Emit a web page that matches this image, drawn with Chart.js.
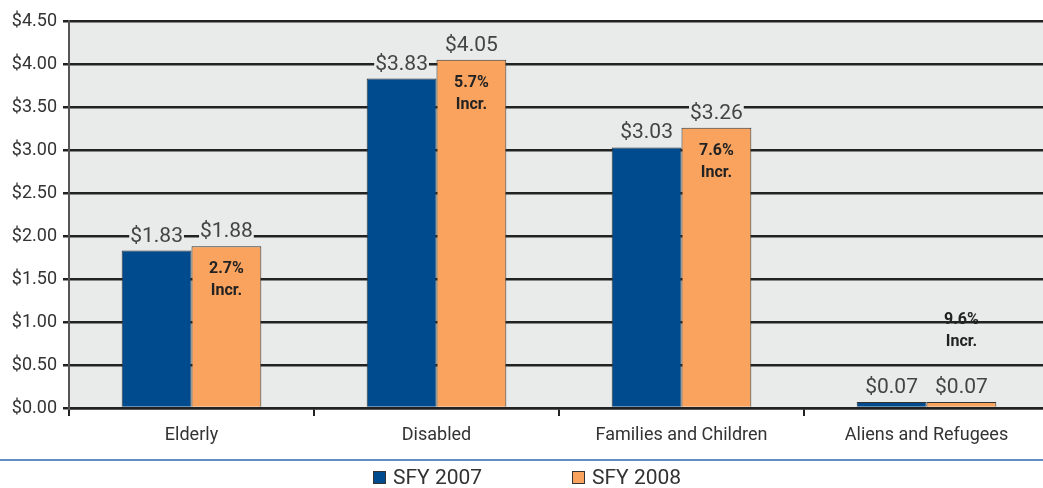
<!DOCTYPE html>
<html>
<head>
<meta charset="utf-8">
<script src="https://cdn.jsdelivr.net/npm/chart.js@4"></script>
<style>
  html, body { margin: 0; padding: 0; background: #fff; overflow: hidden; }
  #wrap { width: 1049px; height: 488px; }
</style>
</head>
<body>
<div id="wrap"><canvas id="barChart"></canvas></div>
<script>
// data
const categories = ["Elderly", "Disabled", "Families and Children", "Aliens and Refugees"];
const sfy2007 = [1.83, 3.83, 3.03, 0.07];
const sfy2008 = [1.88, 4.05, 3.26, 0.07];
const increases = ["2.7%", "5.7%", "7.6%", "9.6%"];
const seriesNames = ["SFY 2007", "SFY 2008"];

const blue = "#004b8d";
const orange = "#f9a35f";
const plotGrey = "#e9ebeb";
const textFont = "Roboto, 'DejaVu Sans', sans-serif";

// grey plot background
const plotBg = {
  id: "plotBg",
  beforeDraw(chart) {
    const { ctx, chartArea: a } = chart;
    ctx.save();
    ctx.fillStyle = plotGrey;
    ctx.fillRect(a.left, a.top, a.right - a.left, a.bottom - a.top);
    ctx.restore();
  },
};

// value labels + increase notes
const barLabels = {
  id: "barLabels",
  afterDatasetsDraw(chart) {
    const ctx = chart.ctx;
    ctx.save();
    ctx.textAlign = "center";
    ctx.textBaseline = "alphabetic";
    ctx.font = "21px " + textFont;
    // clear the grid behind the numbers first
    chart.data.datasets.forEach((ds, i) => {
      chart.getDatasetMeta(i).data.forEach((bar, j) => {
        const w = ctx.measureText("$" + ds.data[j].toFixed(2)).width;
        ctx.fillStyle = plotGrey;
        ctx.fillRect(bar.x - w / 2 - 1, bar.y - 27, w + 2, 21);
      });
    });
    chart.data.datasets.forEach((ds, i) => {
      chart.getDatasetMeta(i).data.forEach((bar, j) => {
        ctx.fillStyle = "#444";
        ctx.fillText("$" + ds.data[j].toFixed(2), bar.x, bar.y - 9);
      });
    });
    // increase notes on the 2008 bars
    chart.getDatasetMeta(1).data.forEach((bar, j) => {
      const tall = bar.base - bar.y > 60;
      const y1 = tall ? bar.y + 27 : bar.y - 78;
      ctx.font = "bold 16px " + textFont;
      ctx.fillStyle = "#222";
      ctx.fillText(increases[j], bar.x, y1);
      ctx.fillText("Incr.", bar.x, y1 + 22);
    });
    ctx.restore();
  },
};

// rule under category labels and legend
const footer = {
  id: "footer",
  afterDraw(chart) {
    const ctx = chart.ctx;
    ctx.save();
    ctx.strokeStyle = "#2a6aad";
    ctx.lineWidth = 1.5;
    ctx.beginPath();
    ctx.moveTo(0, 460);
    ctx.lineTo(chart.width, 460);
    ctx.stroke();

    const items = [
      { x: 373, color: blue, text: seriesNames[0] },
      { x: 572, color: orange, text: seriesNames[1] },
    ];
    ctx.font = "21px " + textFont;
    ctx.textBaseline = "middle";
    items.forEach((it) => {
      ctx.fillStyle = it.color;
      ctx.fillRect(it.x, 471, 13, 13);
      ctx.strokeStyle = "#333";
      ctx.lineWidth = 1;
      ctx.strokeRect(it.x + 0.5, 471.5, 12, 12);
      ctx.fillStyle = "#333";
      ctx.fillText(it.text, it.x + 20, 479);
    });
    ctx.restore();
  },
};

new Chart(document.getElementById("barChart"), {
  type: "bar",
  data: {
    labels: categories,
    datasets: [
      {
        label: seriesNames[0],
        data: sfy2007,
        backgroundColor: blue,
        borderColor: "#333",
        borderWidth: 1,
        categoryPercentage: 0.57,
        barPercentage: 1.0,
      },
      {
        label: seriesNames[1],
        data: sfy2008,
        backgroundColor: orange,
        borderColor: "#333",
        borderWidth: 1,
        categoryPercentage: 0.57,
        barPercentage: 1.0,
      },
    ],
  },
  options: {
    responsive: true,
    maintainAspectRatio: false,
    animation: false,
    layout: { padding: { top: 21, right: 0, bottom: 30, left: 0 } },
    plugins: {
      legend: { display: false },
      tooltip: { enabled: false },
    },
    scales: {
      x: {
        grid: {
          display: true,
          drawOnChartArea: false,
          offset: true,
          color: "#222",
          lineWidth: 2,
          tickLength: 8,
        },
        border: { color: "#222", width: 2.5 },
        ticks: {
          color: "#333",
          font: { family: textFont, size: 18 },
          padding: 9,
        },
        afterFit: (s) => { s.height = 50; },
      },
      y: {
        min: 0,
        max: 4.5,
        grid: {
          color: "#222",
          lineWidth: 2.5,
          tickLength: 6,
        },
        border: { color: "#555", width: 2 },
        ticks: {
          stepSize: 0.5,
          color: "#333",
          padding: 6,
          font: { family: textFont, size: 18 },
          callback: (v) => "$" + Number(v).toFixed(2),
        },
        afterFit: (s) => { s.width = 69; },
      },
    },
  },
  plugins: [plotBg, barLabels, footer],
});
</script>
</body>
</html>
